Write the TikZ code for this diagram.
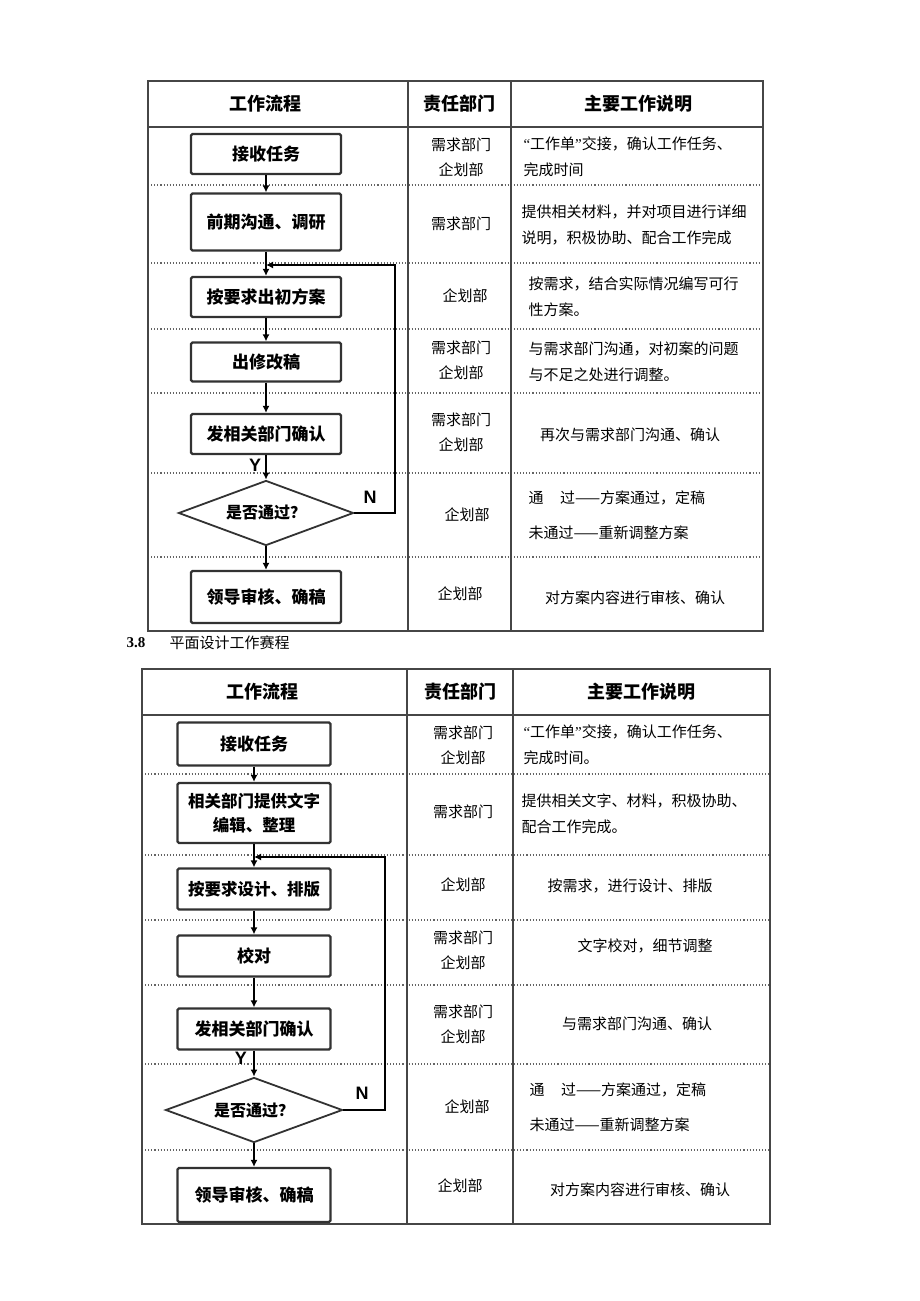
\documentclass[tikz,border=0pt]{standalone}
\usepackage{fontspec}
\setmainfont{Noto Sans CJK SC}
\newfontfamily\latinfont{Liberation Sans}
\newfontfamily\numfont{Liberation Serif}
\usetikzlibrary{arrows.meta,positioning,shapes.geometric}
\definecolor{framegray}{RGB}{70,70,70}
\definecolor{boxgray}{RGB}{50,50,50}
\definecolor{dotgray}{RGB}{100,100,100}
\newcommand{\openq}{{\numfont\char"201C}}
\newcommand{\closeq}{{\numfont\char"201D}}

\begin{document}
\begin{tikzpicture}[x=1pt, y=-1pt, >=Latex,
    frame/.style={draw=framegray, line width=2pt},
    colline/.style={draw=framegray, line width=1.6pt},
    rowsep/.style={draw=dotgray, line width=1.1pt, dotted},
    headtxt/.style={font=\bfseries\fontsize{18}{20}\selectfont},
    flowbox/.style={draw=boxgray, line width=2.2pt, rounded corners=1.5pt, fill=white, align=center, inner sep=2pt, font=\bfseries\fontsize{17}{24}\selectfont},
    decision/.style={draw=boxgray, line width=1.8pt, diamond, aspect=2.7, inner sep=1pt, fill=white, font=\bfseries\fontsize{16}{18}\selectfont},
    dept/.style={align=center, font=\fontsize{15}{25}\selectfont},
    note/.style={align=left, anchor=west, font=\fontsize{15}{26}\selectfont},
    flow/.style={->, line width=2.8pt, >={Latex[length=7pt,width=7pt]}},
    yn/.style={font=\latinfont\bfseries\fontsize{18}{18}\selectfont}]
  \useasboundingbox[fill=white] (0,0) rectangle (920,1301);

  % ---------- first table ----------
  \draw[rowsep] (148,185) -- (763,185) (148,263) -- (763,263) (148,329) -- (763,329)
                (148,393) -- (763,393) (148,473) -- (763,473) (148,557) -- (763,557);
  \draw[colline] (148,127) -- (763,127) (408,81) -- (408,631) (511,81) -- (511,631);
  \draw[frame] (148,81) rectangle (763,631);
  \node[headtxt] (headflowA) at (265,104) {工作流程};
  \node[headtxt] (headdeptA) at (459,104) {责任部门};
  \node[headtxt] (headnoteA) at (638,104) {主要工作说明};

  \node[flowbox, minimum width=150pt, minimum height=40pt] (recv) at (266,154) {接收任务};
  \node[flowbox, minimum width=150pt, minimum height=57pt] (survey) at (266,222) {前期沟通、调研};
  \node[flowbox, minimum width=150pt, minimum height=40pt] (draft) at (266,297) {按要求出初方案};
  \node[flowbox, minimum width=150pt, minimum height=39pt] (revise) at (266,362) {出修改稿};
  \node[flowbox, minimum width=150pt, minimum height=40pt] (confirm) at (266,434) {发相关部门确认};
  \node[decision, minimum width=175pt, minimum height=65pt] (pass) at (266,513) {是否通过？};
  \node[flowbox, minimum width=150pt, minimum height=52pt] (review) at (266,597) {领导审核、确稿};
  \coordinate (loopA) at (266,265);

  \draw[flow] (recv) -- (survey);
  \draw[flow] (survey) -- (draft);
  \draw[flow] (draft) -- (revise);
  \draw[flow] (revise) -- (confirm);
  \draw[flow] (confirm) -- (pass);
  \draw[flow] (pass) -- (review);
  \draw[flow] (pass.east) -- (395,513) |- (loopA);
  \node[yn] (yesA) at (255,465) {Y};
  \node[yn] (noA) at (370,497) {N};

  \node[dept] (deptA1) at (461,157) {需求部门\\企划部};
  \node[dept] (deptA2) at (461,224) {需求部门};
  \node[dept] (deptA3) at (465,296) {企划部};
  \node[dept] (deptA4) at (461,360) {需求部门\\企划部};
  \node[dept] (deptA5) at (461,432) {需求部门\\企划部};
  \node[dept] (deptA6) at (467,515) {企划部};
  \node[dept] (deptA7) at (460,594) {企划部};
  \node[note] (noteA1) at (520,157) {\openq 工作单\closeq 交接，确认工作任务、\\完成时间};
  \node[note] (noteA2) at (518,225) {提供相关材料，并对项目进行详细\\说明，积极协助、配合工作完成};
  \node[note] (noteA3) at (525,297) {按需求，结合实际情况编写可行\\性方案。};
  \node[note] (noteA4) at (525,362) {与需求部门沟通，对初案的问题\\与不足之处进行调整。};
  \node[dept] (noteA5) at (630,435) {再次与需求部门沟通、确认};
  \node[note, font=\fontsize{15}{35}\selectfont] (noteA6) at (525,515) {通\hspace{1.1em}过——方案通过，定稿\\未通过——重新调整方案};
  \node[dept] (noteA7) at (635,598) {对方案内容进行审核、确认};

  % ---------- caption ----------
  \node[anchor=west, font=\numfont\bfseries\fontsize{15}{15}\selectfont] (capnum) at (123,643) {3.8};
  \node[anchor=west, font=\fontsize{15}{15}\selectfont] (captxt) at (166,643) {平面设计工作赛程};

  % ---------- second table ----------
  \draw[rowsep] (142,774) -- (770,774) (142,855) -- (770,855) (142,920) -- (770,920)
                (142,985) -- (770,985) (142,1064) -- (770,1064) (142,1150) -- (770,1150);
  \draw[colline] (142,715) -- (770,715) (407,669) -- (407,1224) (513,669) -- (513,1224);
  \draw[frame] (142,669) rectangle (770,1224);
  \node[headtxt] (headflowB) at (262,692) {工作流程};
  \node[headtxt] (headdeptB) at (460,692) {责任部门};
  \node[headtxt] (headnoteB) at (641,692) {主要工作说明};

  \node[flowbox, minimum width=153pt, minimum height=43pt] (recvB) at (254,744) {接收任务};
  \node[flowbox, minimum width=153pt, minimum height=60pt, font=\bfseries\fontsize{16.5}{24}\selectfont] (textB) at (254,813) {相关部门提供文字\\编辑、整理};
  \node[flowbox, minimum width=153pt, minimum height=41pt, font=\bfseries\fontsize{16.5}{24}\selectfont] (layoutB) at (254,889) {按要求设计、排版};
  \node[flowbox, minimum width=153pt, minimum height=41pt] (proofB) at (254,956) {校对};
  \node[flowbox, minimum width=153pt, minimum height=41pt] (confirmB) at (254,1029) {发相关部门确认};
  \node[decision, minimum width=177pt, minimum height=65pt] (passB) at (254,1110) {是否通过？};
  \node[flowbox, minimum width=153pt, minimum height=54pt] (reviewB) at (254,1195) {领导审核、确稿};
  \coordinate (loopB) at (254,857);

  \draw[flow] (recvB) -- (textB);
  \draw[flow] (textB) -- (layoutB);
  \draw[flow] (layoutB) -- (proofB);
  \draw[flow] (proofB) -- (confirmB);
  \draw[flow] (confirmB) -- (passB);
  \draw[flow] (passB) -- (reviewB);
  \draw[flow] (passB.east) -- (385,1110) |- (loopB);
  \node[yn] (yesB) at (241,1058) {Y};
  \node[yn] (noB) at (362,1093) {N};

  \node[dept] (deptB1) at (463,745) {需求部门\\企划部};
  \node[dept] (deptB2) at (463,812) {需求部门};
  \node[dept] (deptB3) at (463,885) {企划部};
  \node[dept] (deptB4) at (463,950) {需求部门\\企划部};
  \node[dept] (deptB5) at (463,1024) {需求部门\\企划部};
  \node[dept] (deptB6) at (467,1107) {企划部};
  \node[dept] (deptB7) at (460,1186) {企划部};
  \node[note] (noteB1) at (520,745) {\openq 工作单\closeq 交接，确认工作任务、\\完成时间。};
  \node[note] (noteB2) at (518,814) {提供相关文字、材料，积极协助、\\配合工作完成。};
  \node[dept] (noteB3) at (630,886) {按需求，进行设计、排版};
  \node[dept] (noteB4) at (645,946) {文字校对，细节调整};
  \node[dept] (noteB5) at (637,1024) {与需求部门沟通、确认};
  \node[note, font=\fontsize{15}{35}\selectfont] (noteB6) at (526,1107) {通\hspace{1.1em}过——方案通过，定稿\\未通过——重新调整方案};
  \node[dept] (noteB7) at (640,1190) {对方案内容进行审核、确认};
\end{tikzpicture}
\end{document}
